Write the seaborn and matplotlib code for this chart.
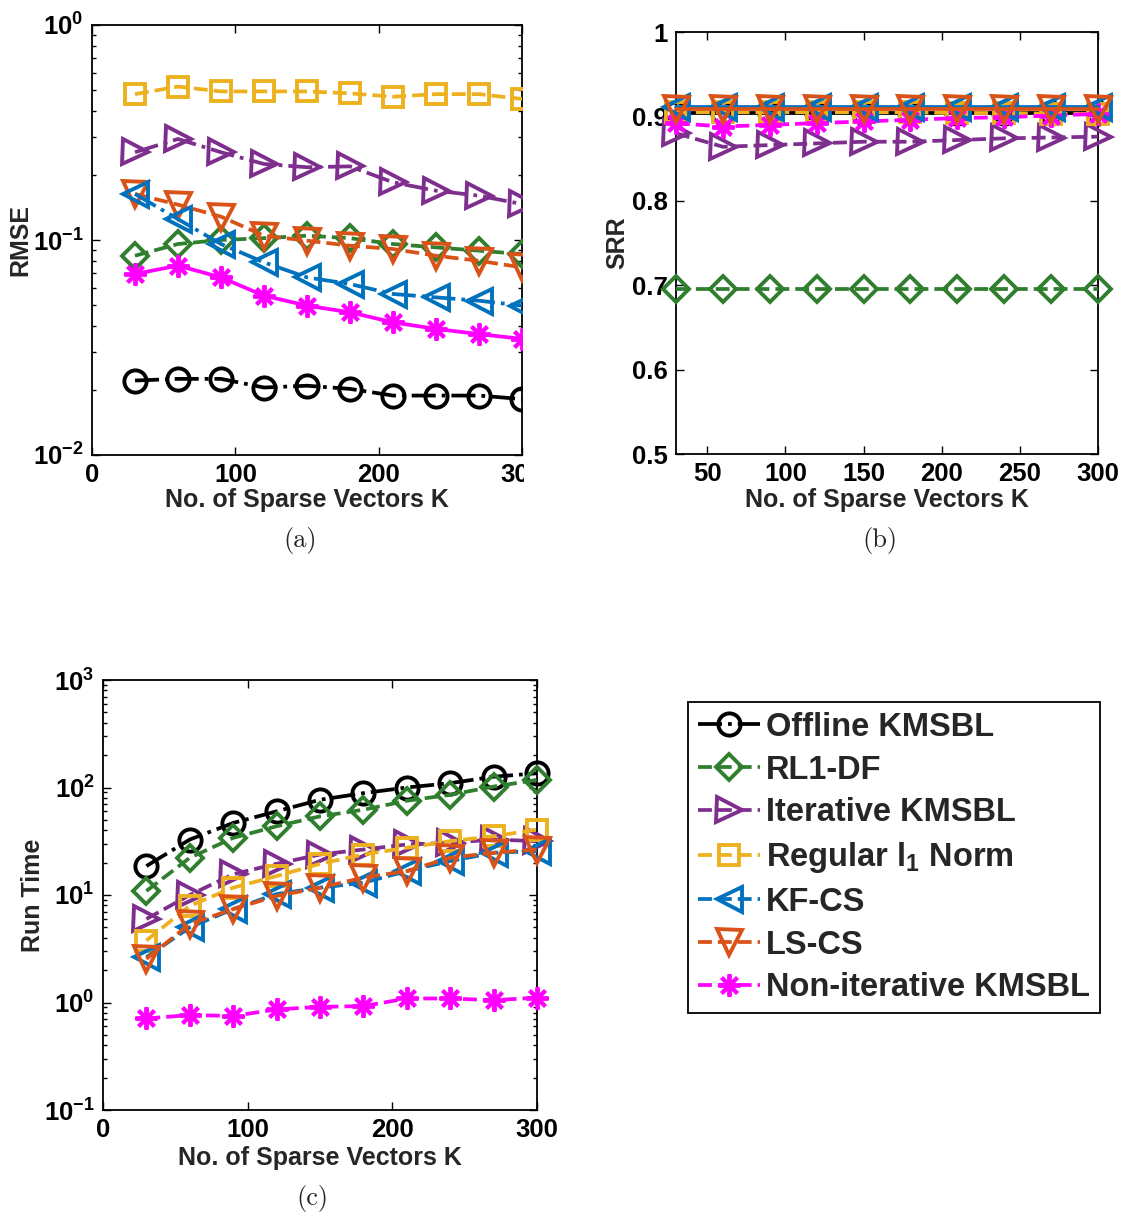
import numpy as np
import pandas as pd
import seaborn as sns
import matplotlib
matplotlib.use("Agg")
import matplotlib.pyplot as plt
from matplotlib.patches import Rectangle
from matplotlib.ticker import FixedLocator, FuncFormatter, LogLocator, NullFormatter

# ---------------- data ----------------
K = [30, 60, 90, 120, 150, 180, 210, 240, 270, 300]

labels = ["Offline KMSBL", "RL1-DF", "Iterative KMSBL", r"Regular l$_1$ Norm",
          "KF-CS", "LS-CS", "Non-iterative KMSBL"]

# (a) RMSE
rmse_offline = [0.0222, 0.0226, 0.0226, 0.0206, 0.0210, 0.0203, 0.0189, 0.0189, 0.0189, 0.0182]
rmse_rl1df = [0.0845, 0.0958, 0.100, 0.102, 0.1047, 0.102, 0.0958, 0.0924, 0.0892, 0.0860]
rmse_iter = [0.256, 0.295, 0.256, 0.2257, 0.218, 0.220, 0.1855, 0.1696, 0.1607, 0.147]
rmse_l1 = [0.477, 0.517, 0.491, 0.491, 0.491, 0.481, 0.464, 0.477, 0.477, 0.453]
rmse_kfcs = [0.1637, 0.125, 0.0958, 0.0787, 0.067, 0.0624, 0.0561, 0.0541, 0.0522, 0.0495]
rmse_lscs = [0.1637, 0.146, 0.1284, 0.1047, 0.0993, 0.0941, 0.0908, 0.0845, 0.080, 0.0746]
rmse_noniter = [0.0695, 0.076, 0.067, 0.0551, 0.0495, 0.0461, 0.0414, 0.0386, 0.0365, 0.0347]

# (b) SRR
srr_offline = [0.904, 0.904, 0.904, 0.904, 0.904, 0.904, 0.904, 0.904, 0.904, 0.904]
srr_rl1df = [0.695, 0.695, 0.695, 0.695, 0.695, 0.695, 0.695, 0.695, 0.695, 0.695]
srr_iter = [0.880, 0.864, 0.866, 0.868, 0.870, 0.870, 0.872, 0.874, 0.875, 0.876]
srr_l1 = [0.905, 0.905, 0.905, 0.905, 0.905, 0.905, 0.904, 0.904, 0.903, 0.903]
srr_kfcs = [0.911, 0.911, 0.911, 0.911, 0.911, 0.911, 0.911, 0.911, 0.911, 0.911]
srr_lscs = [0.909, 0.909, 0.909, 0.909, 0.909, 0.909, 0.909, 0.909, 0.909, 0.909]
srr_noniter = [0.892, 0.888, 0.890, 0.892, 0.894, 0.896, 0.898, 0.899, 0.901, 0.903]

# (c) Run time
rt_offline = [18.6, 32.8, 46.8, 60.0, 76.9, 88.6, 100.0, 109.7, 126.0, 135.6]
rt_rl1df = [10.9, 22.2, 34.0, 43.6, 53.9, 62.1, 75.3, 85.5, 102.0, 117.7]
rt_iter = [5.98, 10.0, 15.6, 19.5, 23.8, 26.5, 29.5, 30.6, 32.8, 31.7]
rt_l1 = [3.77, 7.94, 11.7, 15.0, 19.5, 23.8, 27.5, 31.7, 35.2, 40.6]
rt_kfcs = [2.64, 5.0, 7.4, 10.2, 11.7, 13.0, 16.7, 20.7, 24.7, 25.6]
rt_lscs = [2.55, 5.37, 7.4, 9.8, 11.7, 14.5, 16.7, 22.2, 24.7, 26.5]
rt_noniter = [0.711, 0.764, 0.75, 0.862, 0.912, 0.925, 1.09, 1.09, 1.05, 1.11]

rmse = [rmse_offline, rmse_rl1df, rmse_iter, rmse_l1, rmse_kfcs, rmse_lscs, rmse_noniter]
srr = [srr_offline, srr_rl1df, srr_iter, srr_l1, srr_kfcs, srr_lscs, srr_noniter]
rt = [rt_offline, rt_rl1df, rt_iter, rt_l1, rt_kfcs, rt_lscs, rt_noniter]

# ---------------- styles ----------------
colors = ["#000000", "#2F7F2F", "#7E2F8E", "#EDB120", "#0072BD", "#D95319", "#FF00FF"]
markers = ["o", "D", ">", "s", "<", "v", (8, 2, 0)]
msizes = [16, 13, 18, 15, 18, 18, 16]
ls_a = ["-.", "--", "-.", "--", "-.", "--", "-"]
ls_b = ["-", "--", "--", "--", "-", "-", "--"]
ls_c = ["-.", "--", "--", "--", "--", "--", "--"]
z_a = [3, 3, 3, 3, 4, 3, 5]
z_b = [3, 3, 3, 4, 5, 6, 4]
z_c = [3, 3, 3, 3, 3, 4, 3]

sns.set_style("ticks")
plt.rcParams["font.family"] = ["Liberation Sans", "DejaVu Sans"]
plt.rcParams["font.weight"] = "bold"
plt.rcParams["axes.labelweight"] = "bold"
plt.rcParams["mathtext.fontset"] = "custom"
plt.rcParams["mathtext.rm"] = "Liberation Sans:bold"
plt.rcParams["mathtext.bf"] = "Liberation Sans:bold"
plt.rcParams["mathtext.it"] = "Liberation Sans:bold"
plt.rcParams["mathtext.default"] = "bf"

W, H = 1125, 1216
fig = plt.figure(figsize=(W / 100, H / 100), dpi=100)


def px_axes(l, t, r, b):
    return fig.add_axes([l / W, 1 - b / H, (r - l) / W, (b - t) / H])


ax_a = px_axes(92, 25, 522, 455)
ax_b = px_axes(676, 32, 1098, 454)
ax_c = px_axes(103, 680, 537, 1110)


def draw(ax, data, styles, zs, clip):
    for i, vals in enumerate(data):
        df = pd.DataFrame({"K": K, "v": vals})
        sns.lineplot(data=df, x="K", y="v", ax=ax, color=colors[i],
                     marker=markers[i], markersize=msizes[i],
                     markerfacecolor="none", markeredgecolor=colors[i],
                     markeredgewidth=2.8, linewidth=2.7, linestyle=styles[i],
                     zorder=zs[i], clip_on=clip, label=labels[i], legend=False)


draw(ax_a, rmse, ls_a, z_a, True)
draw(ax_b, srr, ls_b, z_b, False)
draw(ax_c, rt, ls_c, z_c, False)

logfmt = FuncFormatter(lambda v, p: r"$\mathbf{10^{%d}}$" % int(round(np.log10(v))))

for ax in (ax_a, ax_b, ax_c):
    for s in ax.spines.values():
        s.set_visible(True)
        s.set_linewidth(1.3)
        s.set_color("black")
    ax.tick_params(which="both", direction="in", top=True, right=True,
                   labelsize=18, width=1.0, colors="black")
    ax.tick_params(which="major", length=6, pad=6)
    ax.tick_params(which="minor", length=3)

# (a)
ax_a.set_yscale("log")
ax_a.set_xlim(0, 300)
ax_a.set_ylim(1e-2, 1e0)
ax_a.xaxis.set_major_locator(FixedLocator([0, 100, 200, 300]))
ax_a.yaxis.set_major_locator(FixedLocator([1e-2, 1e-1, 1e0]))
ax_a.yaxis.set_minor_locator(LogLocator(base=10, subs=np.arange(2, 10)))
ax_a.yaxis.set_minor_formatter(NullFormatter())
ax_a.yaxis.set_major_formatter(logfmt)

# (b)
ax_b.set_xlim(30, 300)
ax_b.set_ylim(0.5, 1.0)
ax_b.xaxis.set_major_locator(FixedLocator([50, 100, 150, 200, 250, 300]))
ax_b.yaxis.set_major_locator(FixedLocator([0.5, 0.6, 0.7, 0.8, 0.9, 1.0]))
ax_b.set_yticklabels(["0.5", "0.6", "0.7", "0.8", "0.9", "1"])

# (c)
ax_c.set_yscale("log")
ax_c.set_xlim(0, 300)
ax_c.set_ylim(1e-1, 1e3)
ax_c.xaxis.set_major_locator(FixedLocator([0, 100, 200, 300]))
ax_c.yaxis.set_major_locator(FixedLocator([1e-1, 1e0, 1e1, 1e2, 1e3]))
ax_c.yaxis.set_minor_locator(LogLocator(base=10, subs=np.arange(2, 10)))
ax_c.yaxis.set_minor_formatter(NullFormatter())
ax_c.yaxis.set_major_formatter(logfmt)

for ax in (ax_a, ax_b, ax_c):
    for t in ax.get_xticklabels() + ax.get_yticklabels():
        t.set_fontweight("bold")
        t.set_fontsize(18.5)

xl = "No. of Sparse Vectors K"
for ax, ylab, ylx, xly in ((ax_a, "RMSE", -0.167, -0.105),
                           (ax_b, "SRR", -0.14, -0.109),
                           (ax_c, "Run Time", -0.161, -0.112)):
    ax.set_xlabel(xl, fontsize=18, fontweight="bold", va="center")
    ax.set_ylabel(ylab, fontsize=18, fontweight="bold", va="center")
    ax.xaxis.set_label_coords(0.5, xly)
    ax.yaxis.set_label_coords(ylx, 0.5)

# crop-like mask on the right of panel (a)
fig.patches.append(Rectangle((524 / W, 1 - 530 / H), 70 / W, 530 / H,
                             transform=fig.transFigure, facecolor="white",
                             edgecolor="none", zorder=10))

# captions
cap_kw = dict(fontsize=19, family="cmr10", fontweight="normal", ha="center", va="center")
fig.text(300 / W, 1 - 540 / H, "(a)", **cap_kw)
fig.text(880 / W, 1 - 540 / H, "(b)", **cap_kw)
fig.text(312 / W, 1 - 1198 / H, "(c)", **cap_kw)

# legend
handles = ax_c.get_lines()[:7]
leg = fig.legend(handles, labels, loc="upper left",
                 bbox_to_anchor=(688 / W, 1 - 702 / H), borderaxespad=0,
                 frameon=True, fancybox=False, framealpha=1, edgecolor="black",
                 prop={"family": "Liberation Sans", "weight": "bold", "size": 23.5},
                 handlelength=1.9, handletextpad=0.2, labelspacing=0.36,
                 borderpad=0.3)
leg.get_frame().set_linewidth(1.3)
leg.set_zorder(20)

fig.savefig("out.png", dpi=100)
